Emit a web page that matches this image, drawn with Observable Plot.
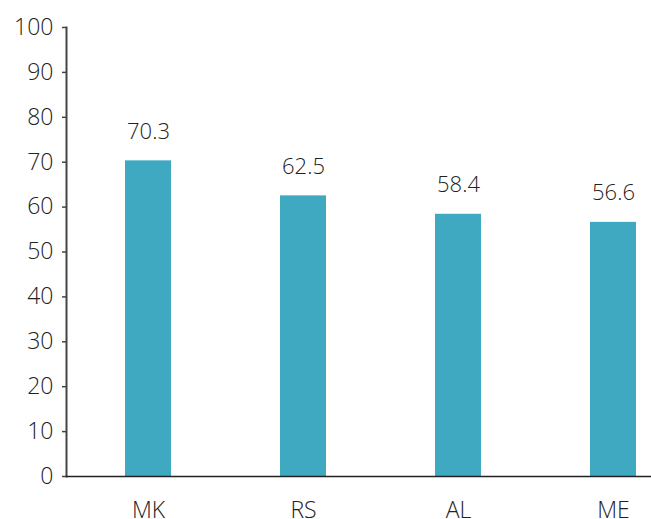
<!DOCTYPE html>
<html>
<head>
<meta charset="utf-8">
<script src="https://cdn.jsdelivr.net/npm/d3@7"></script>
<script src="https://cdn.jsdelivr.net/npm/@observablehq/plot@0.6"></script>
<style>
  body { margin: 0; background: #fff; }
  svg { font-family: "Open Sans", sans-serif; }
</style>
</head>
<body>
<div id="chart"></div>
<script>
const countries = ["MK", "RS", "AL", "ME"];
const values = [70.3, 62.5, 58.4, 56.6];
const yTicks = [0, 10, 20, 30, 40, 50, 60, 70, 80, 90, 100];

const data = countries.map((c, i) => ({country: c, value: values[i]}));

const chart = Plot.plot({
  width: 651,
  height: 519,
  marginLeft: 66,
  marginRight: 0,
  marginTop: 27,
  marginBottom: 43,
  style: {fontFamily: "Open Sans, sans-serif", fontWeight: 300, color: "#222", background: "#fff"},
  x: {domain: countries, range: [66, 694], paddingInner: 0.704, paddingOuter: 0.373, align: 0.5, label: null},
  y: {domain: [0, 100], label: null},
  marks: [
    Plot.barY(data, {x: "country", y: "value", fill: "#3fa9c2"}),
    Plot.text(data, {x: "country", y: "value", text: d => d.value.toFixed(1), dy: -29, fontSize: 22, fill: "#222", fontWeight: 300}),
    Plot.axisY({ticks: yTicks, tickSize: 4, tickPadding: 9, fontSize: 23, stroke: "#444", strokeWidth: 1.5, fill: "#222", fontWeight: 300, label: null}),
    Plot.frame({anchor: "left", stroke: "#444", strokeWidth: 2}),
    Plot.axisX({tickSize: 0, tickPadding: 25, fontSize: 23, fill: "#222", fontWeight: 300, label: null}),
    Plot.ruleY([0], {stroke: "#222", strokeWidth: 1.5})
  ]
});
document.getElementById("chart").appendChild(chart);
</script>
</body>
</html>
